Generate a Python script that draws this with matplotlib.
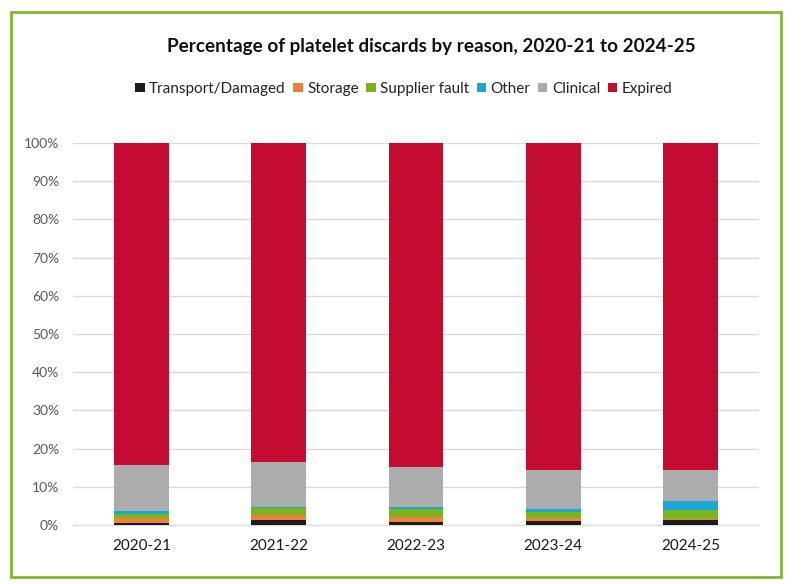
import matplotlib
matplotlib.use("Agg")
import matplotlib.pyplot as plt
from matplotlib.patches import Rectangle
import numpy as np

plt.rcParams['font.family'] = ['Lato', 'DejaVu Sans']

# data (percent of discards)
years = ['2020-21', '2021-22', '2022-23', '2023-24', '2024-25']
transport = [0.6, 1.2, 0.9, 1.0, 1.2]
storage = [1.3, 1.3, 1.2, 0.9, 0.4]
supplier = [0.9, 2.0, 2.0, 1.6, 2.3]
other = [0.8, 0.2, 0.6, 0.6, 2.3]
clinical = [12.0, 11.9, 10.4, 10.2, 8.1]
expired = [84.4, 83.4, 84.9, 85.7, 85.7]

series = [
    ('Transport/Damaged', transport, '#1c1c1c'),
    ('Storage', storage, '#ef823a'),
    ('Supplier fault', supplier, '#79b51c'),
    ('Other', other, '#1aa7d6'),
    ('Clinical', clinical, '#acacac'),
    ('Expired', expired, '#c30c30'),
]

fig = plt.figure(figsize=(8.06, 5.84), dpi=100)
ax = fig.add_axes([0.0906, 0.101, 0.851, 0.654])

x = np.arange(len(years))
bottom = np.zeros(len(years))
handles = []
for name, vals, col in series:
    b = ax.bar(x, vals, 0.4, bottom=bottom, color=col, label=name, zorder=3)
    bottom += np.array(vals)
    handles.append(b)

ax.set_xlim(-0.5, len(years) - 0.5)
ax.set_ylim(0, 100)
ax.set_yticks(np.arange(0, 101, 10))
ax.set_yticklabels(['%d%%' % v for v in range(0, 101, 10)])
ax.set_xticks(x)
ax.set_xticklabels(years)
ax.grid(axis='y', color='#d9d9d9', linewidth=1, zorder=0)
for s in ['top', 'right', 'left']:
    ax.spines[s].set_visible(False)
ax.spines['bottom'].set_color('#d9d9d9')
ax.tick_params(axis='both', length=0)
ax.tick_params(axis='y', labelsize=10, labelcolor='#595959', pad=10)
ax.tick_params(axis='x', labelsize=11, labelcolor='#1a1a1a', pad=10)

fig.text(0.535, 0.920, 'Percentage of platelet discards by reason, 2020-21 to 2024-25',
         ha='center', va='center', fontsize=13.6, fontweight='bold', color='#111111')

fig.legend(handles=handles, loc='center', bbox_to_anchor=(0.501, 0.848), ncol=6,
           frameon=False, fontsize=11, handlelength=0.6, handleheight=0.6,
           handletextpad=0.3, columnspacing=0.5, labelcolor='#222222')

fig.patches.append(Rectangle((11 / 806, 1 - 577 / 584), 770 / 806, 565 / 584,
                             transform=fig.transFigure, fill=False,
                             edgecolor='#84b631', linewidth=2))

fig.savefig('out.png', dpi=100)
